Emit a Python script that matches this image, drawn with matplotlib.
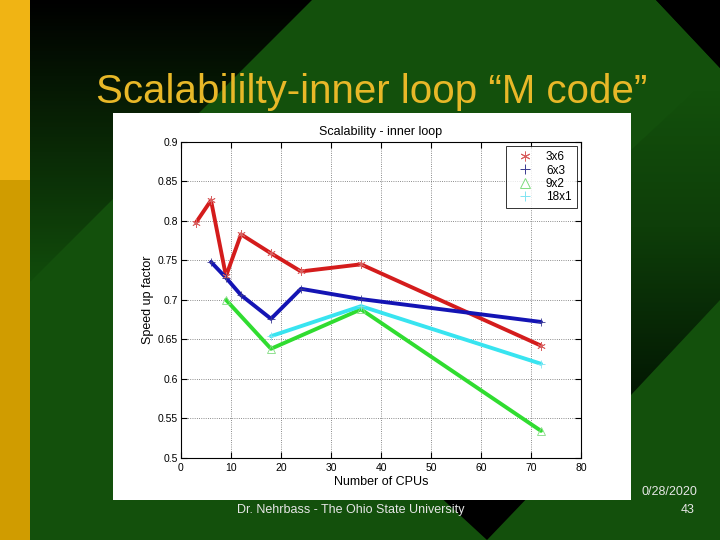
import numpy as np
import matplotlib
matplotlib.use("Agg")
from matplotlib import pyplot as plt
from matplotlib.patches import Polygon, Rectangle
from matplotlib.lines import Line2D

# Data (speed up factor vs number of CPUs)
cpus_3x6  = [3, 6, 9, 12, 18, 24, 36, 72]
speed_3x6 = [0.798, 0.826, 0.730, 0.783, 0.759, 0.736, 0.745, 0.642]

cpus_6x3  = [6, 9, 12, 18, 24, 36, 72]
speed_6x3 = [0.748, 0.728, 0.706, 0.676, 0.714, 0.701, 0.672]

cpus_9x2  = [9, 18, 36, 72]
speed_9x2 = [0.700, 0.638, 0.688, 0.534]

cpus_18x1  = [18, 36, 72]
speed_18x1 = [0.654, 0.692, 0.619]

series_names = ["3x6", "6x3", "9x2", "18x1"]

slide_title = "Scalabililty-inner loop \u201cM code\u201d"
footer_text = "Dr. Nehrbass - The Ohio State University"
date_text   = "0/28/2020"
page_text   = "43"

plt.rcParams["font.family"] = ["Liberation Sans", "DejaVu Sans"]

fig = plt.figure(figsize=(7.2, 5.4), dpi=100)

# Slide background (pixel coordinates)
bg = fig.add_axes([0, 0, 1, 1])
bg.set_xlim(0, 720)
bg.set_ylim(540, 0)
bg.axis("off")

grad = np.linspace(0, 1, 256).reshape(-1, 1)
bg_cmap = matplotlib.colors.LinearSegmentedColormap.from_list(
    "bg", [(0.0, "#000000"), (0.28, "#0a2a06"), (0.52, "#114c0b"), (1.0, "#13500c")])
bg.imshow(grad, extent=[0, 720, 540, 0], cmap=bg_cmap, aspect="auto", zorder=0)

bg.add_patch(Polygon([(312, 0), (656, 0), (720, 68), (720, 540), (30, 540), (30, 282)],
                     closed=True, facecolor="#13500c", edgecolor="none", zorder=1))
bg.add_patch(Polygon([(656, 0), (720, 0), (720, 68)], closed=True,
                     facecolor="#000000", edgecolor="none", zorder=2))

# dark wedge on the right
wedge = Polygon([(631, 150), (720, 68), (720, 300), (631, 395)], closed=True,
                facecolor="none", edgecolor="none", zorder=2)
bg.add_patch(wedge)
wedge_cmap = matplotlib.colors.LinearSegmentedColormap.from_list(
    "wedge", [(0.0, "#13500c"), (0.45, "#0e3e09"), (1.0, "#031803")])
im = bg.imshow(grad, extent=[631, 720, 395, 90], cmap=wedge_cmap, aspect="auto", zorder=2)
im.set_clip_path(wedge)

# black triangle at the bottom
bg.add_patch(Polygon([(411, 470), (554, 470), (487, 540)], closed=True,
                     facecolor="#000000", edgecolor="none", zorder=2))

# gold bar at the left
bg.add_patch(Rectangle((0, 0), 30, 180, facecolor="#f0b414", edgecolor="none", zorder=3))
bg.add_patch(Rectangle((0, 180), 30, 360, facecolor="#d09c00", edgecolor="none", zorder=3))

# white chart frame
bg.add_patch(Rectangle((113, 113), 518, 387, facecolor="white", edgecolor="none", zorder=4))

bg.text(372, 92, slide_title, color="#e8b828", fontsize=29, ha="center", va="center", zorder=5)
bg.text(351, 510, footer_text, color="#e6e6e6", fontsize=9, ha="center", va="center", zorder=5)
bg.text(697, 492, date_text, color="#e6e6e6", fontsize=9, ha="right", va="center", zorder=5)
bg.text(695, 510, page_text, color="#e6e6e6", fontsize=9, ha="right", va="center", zorder=5)

# Chart
ax = fig.add_axes([181 / 720, 1 - 457.7 / 540, 400 / 720, 315.7 / 540])
ax.set_facecolor("white")

line_cols   = ["#d41c1c", "#1414b4", "#30dc30", "#38e4f0"]
marker_cols = ["#d86060", "#3a3a90", "#80dc80", "#80e4f2"]
markers     = [(6, 2, 0), "+", "^", "+"]

all_x = [cpus_3x6, cpus_6x3, cpus_9x2, cpus_18x1]
all_y = [speed_3x6, speed_6x3, speed_9x2, speed_18x1]

for x, y, lc, mc, m in zip(all_x, all_y, line_cols, marker_cols, markers):
    ax.plot(x, y, color=lc, linewidth=2.8, zorder=3, solid_capstyle="round")
    ax.plot(x, y, linestyle="none", marker=m, markersize=6, color=mc,
            markerfacecolor="none", markeredgewidth=0.6, zorder=4)

ax.set_xlim(0, 80)
ax.set_ylim(0.5, 0.9)
ax.set_xticks(np.arange(0, 81, 10))
ax.set_yticks(np.arange(0.5, 0.91, 0.05))
ax.set_yticklabels(["0.5", "0.55", "0.6", "0.65", "0.7", "0.75", "0.8", "0.85", "0.9"])
ax.tick_params(direction="in", top=True, right=True, length=4, width=0.8, labelsize=7.5, pad=2)
ax.tick_params(axis="x", pad=4)
ax.grid(True, linestyle=":", color="#666666", linewidth=0.6)
for s in ax.spines.values():
    s.set_linewidth(0.8)

ax.set_title("Scalability - inner loop", fontsize=9, pad=5)
ax.set_xlabel("Number of CPUs", fontsize=9, labelpad=2)
ax.set_ylabel("Speed up factor", fontsize=9, labelpad=3)

handles = [Line2D([], [], linestyle="none", marker=m, color=mc, markersize=7,
                  markerfacecolor="none", markeredgewidth=0.7)
           for m, mc in zip(markers, marker_cols)]
leg = ax.legend(handles, series_names, loc="upper right", fontsize=8.5, frameon=True,
                fancybox=False, borderaxespad=0.35, handletextpad=0.7, labelspacing=0.1,
                borderpad=0.45, handlelength=2.2)
leg.get_frame().set_edgecolor("black")
leg.get_frame().set_linewidth(0.7)

fig.savefig("out.png", dpi=100)
